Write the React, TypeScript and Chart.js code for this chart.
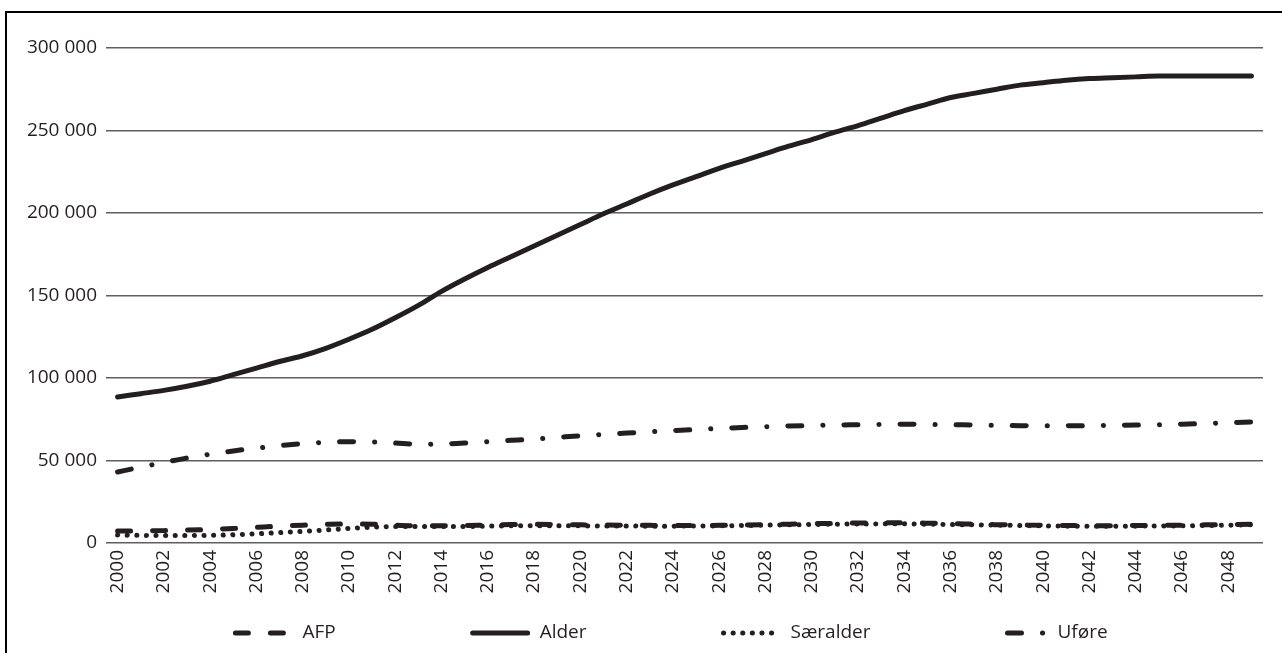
import React, { useEffect, useRef } from "react";
import { Chart, registerables } from "chart.js";

Chart.register(...registerables);

const years: string[] = [];
for (let y = 2000; y <= 2049; y++) years.push(String(y));

const afp = [
  7200, 7300, 7500, 7800, 8200, 8800, 9500, 10200, 10800, 11300,
  11600, 11400, 10800, 10400, 10400, 10600, 10900, 11200, 11300, 11200,
  11000, 10900, 10800, 10700, 10600, 10600, 10700, 10900, 11100, 11400,
  11700, 11900, 12100, 12200, 12200, 12000, 11700, 11400, 11100, 10900,
  10700, 10600, 10500, 10500, 10600, 10700, 10800, 11000, 11200, 11400,
];

const alder = [
  88500, 90500, 92500, 95000, 98000, 102000, 106000, 110000, 113500, 118000,
  123500, 129500, 136500, 144000, 152500, 160000, 167000, 173500, 180000, 186500,
  193000, 199500, 205500, 211500, 217000, 222000, 227000, 231500, 236000, 240500,
  244500, 249000, 253000, 257500, 262000, 266000, 270000, 272500, 275000, 277500,
  279000, 280500, 281500, 282000, 282500, 283000, 283000, 283000, 283000, 283000,
];

const saeralder = [
  4800, 4600, 4500, 4500, 4600, 5000, 5600, 6300, 7000, 7900,
  8800, 9600, 10000, 10000, 10000, 10000, 10200, 10400, 10500, 10500,
  10400, 10300, 10300, 10200, 10200, 10300, 10400, 10600, 10800, 11000,
  11200, 11400, 11500, 11600, 11600, 11400, 11200, 11000, 10800, 10600,
  10400, 10200, 10100, 10100, 10200, 10300, 10400, 10600, 10800, 11000,
];

const ufore = [
  43000, 46000, 48800, 51500, 53800, 55800, 57500, 59000, 60200, 61000,
  61400, 61300, 60600, 59900, 60000, 60600, 61400, 62200, 63000, 64000,
  65000, 65800, 66600, 67400, 68100, 68800, 69400, 70000, 70500, 70900,
  71200, 71500, 71700, 71900, 72000, 71900, 71700, 71500, 71300, 71100,
  71000, 71000, 71100, 71300, 71500, 71700, 72000, 72400, 72900, 73400,
];

const seriesNames = ["AFP", "Alder", "Særalder", "Uføre"];
const seriesValues = [afp, alder, saeralder, ufore];
const seriesDashes: number[][] = [[13, 22], [], [0.1, 9.5], [14, 21, 0.1, 21]];
const legendSampleW = [55, 55, 55, 38];

const INK = "#231f20";
const FONT = "'Open Sans', sans-serif";

const fmt = (v: number) =>
  String(v).replace(/\B(?=(\d{3})+(?!\d))/g, " ");

const legendPlugin = {
  id: "customLegend",
  afterDraw(chart: any) {
    const ctx = chart.ctx as CanvasRenderingContext2D;
    const area = chart.chartArea;
    const gap = 12;
    const spacing = 137;
    ctx.save();
    ctx.font = `19px ${FONT}`;
    const widths = seriesNames.map(
      (n, i) => legendSampleW[i] + gap + ctx.measureText(n).width
    );
    const total = widths.reduce((a, b) => a + b, 0) + spacing * (widths.length - 1);
    const centerX = (area.left + area.right) / 2 - 13;
    let x = centerX - total / 2;
    const y = 633;
    chart.data.datasets.forEach((ds: any, i: number) => {
      const sw = legendSampleW[i];
      ctx.save();
      ctx.strokeStyle = INK;
      ctx.lineWidth = 5;
      ctx.lineCap = "round";
      ctx.setLineDash(ds.borderDash || []);
      ctx.beginPath();
      ctx.moveTo(x, y);
      ctx.lineTo(x + sw, y);
      ctx.stroke();
      ctx.restore();
      ctx.fillStyle = INK;
      ctx.textBaseline = "middle";
      ctx.textAlign = "left";
      ctx.fillText(ds.label, x + sw + gap, y);
      x += widths[i] + spacing;
    });
    ctx.restore();
  },
};

export default function App() {
  const ref = useRef<HTMLCanvasElement | null>(null);

  useEffect(() => {
    if (!ref.current) return;
    const chart = new Chart(ref.current, {
      type: "line",
      data: {
        labels: years,
        datasets: seriesNames.map((name, i) => ({
          label: name,
          data: seriesValues[i],
          borderColor: INK,
          backgroundColor: INK,
          borderWidth: 5,
          borderDash: seriesDashes[i],
          borderCapStyle: "round" as const,
          borderJoinStyle: "round" as const,
          pointRadius: 0,
          cubicInterpolationMode: "monotone" as const,
          fill: false,
        })),
      },
      options: {
        responsive: false,
        animation: false,
        layout: { padding: { left: 0, right: 19, top: 48, bottom: 0 } },
        plugins: {
          legend: { display: false },
          tooltip: { enabled: false },
        },
        scales: {
          x: {
            type: "category",
            offset: true,
            grid: { display: false, drawTicks: false },
            border: { display: false },
            afterFit: (s: any) => {
              s.height = 110;
            },
            ticks: {
              autoSkip: false,
              maxRotation: 90,
              minRotation: 90,
              padding: 7,
              color: INK,
              font: { family: FONT, size: 19 },
              callback: function (this: any, _v: any, idx: number) {
                return idx % 2 === 0 ? years[idx] : "";
              },
            },
          },
          y: {
            min: 0,
            max: 300000,
            afterFit: (s: any) => {
              s.width = 106;
            },
            grid: { color: "#5f5f5f", lineWidth: 1.5, drawTicks: false },
            border: { display: false },
            ticks: {
              stepSize: 50000,
              padding: 9,
              color: INK,
              font: { family: FONT, size: 19 },
              callback: (v: any) => fmt(Number(v)),
            },
          },
        },
      },
      plugins: [legendPlugin],
    });
    return () => chart.destroy();
  }, []);

  return (
    <div>
      <div
        style={{
          position: "fixed",
          left: 5,
          top: 11,
          width: 1400,
          height: 800,
          border: "2px solid #000",
          boxSizing: "border-box",
        }}
      />
      <canvas
        ref={ref}
        width={1282}
        height={653}
        style={{ position: "fixed", left: 0, top: 0, width: 1282, height: 653 }}
      />
    </div>
  );
}
